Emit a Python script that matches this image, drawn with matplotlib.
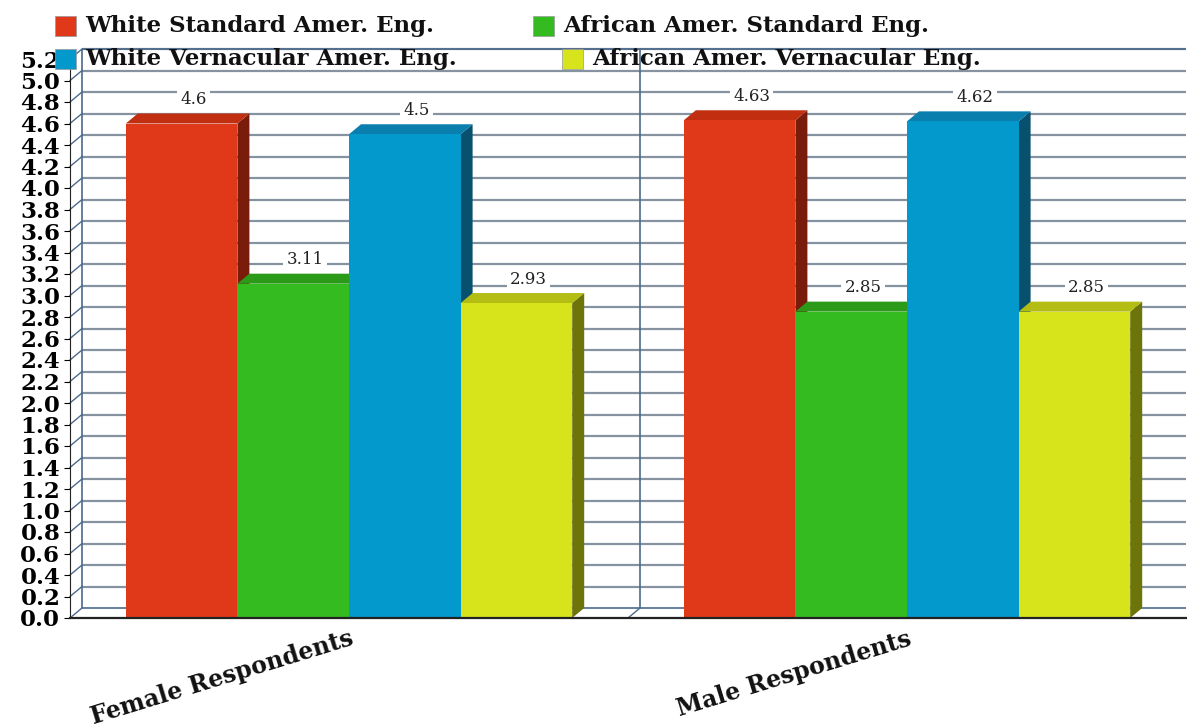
import numpy as np
import matplotlib.pyplot as plt
from matplotlib.patches import Rectangle, Polygon

# data
groups = ['Female Respondents', 'Male Respondents']
series = ['White Standard Amer. Eng.', 'African Amer. Standard Eng.',
          'White Vernacular Amer. Eng.', 'African Amer. Vernacular Eng.']
white_standard = [4.6, 4.63]
african_standard = [3.11, 2.85]
white_vernacular = [4.5, 4.62]
african_vernacular = [2.93, 2.85]
yticks = np.arange(0, 5.21, 0.2)

values = [white_standard, african_standard, white_vernacular, african_vernacular]
# front, top, side shades per series
shades = [('#e0391a', '#c22f10', '#7a1c0b'),
          ('#33bb1f', '#2a9a18', '#1d6a10'),
          ('#0399cc', '#0a7fae', '#07506e'),
          ('#d7e31b', '#b3bd13', '#6d7409')]

serif = 'DejaVu Serif'
grid_col = '#8592a0'
wall_col = '#4c6a8c'

fig = plt.figure(figsize=(11.87, 7.27), dpi=100)
ax = fig.add_axes([70 / 1187, 109 / 727, 1116 / 1187, 559 / 727])
ax.set_xlim(0, 2)
ax.set_ylim(0, 5.2)

# depth of the fake 3d effect, in data units
dx = 12 / 558
dy = 10 / 107.5

# back wall
ax.hlines(yticks[1:] + dy, dx, 2, color=grid_col, lw=1.6, zorder=1, clip_on=False)
ax.hlines(dy, dx, 2, color=wall_col, lw=1.2, zorder=1, clip_on=False)
ax.hlines(5.2 + dy, dx, 2, color=wall_col, lw=1.2, zorder=1, clip_on=False)
ax.vlines([dx, 1 + dx], dy, 5.2 + dy, color=wall_col, lw=1.2, zorder=1, clip_on=False)
for v in yticks:
    ax.plot([0, dx], [v, v + dy], color=wall_col, lw=1.0, zorder=1, clip_on=False)
ax.plot([1, 1 + dx], [0, dy], color=wall_col, lw=1.0, zorder=1, clip_on=False)

# bars
bw = 0.2
z = 3
for g in range(len(groups)):
    for i, vals in enumerate(values):
        h = vals[g]
        x0 = g + 0.1 + i * bw
        front, top, side = shades[i]
        ax.add_patch(Polygon([(x0 + bw, 0), (x0 + bw + dx, dy), (x0 + bw + dx, h + dy), (x0 + bw, h)],
                             closed=True, facecolor=side, edgecolor='none', zorder=z))
        ax.add_patch(Polygon([(x0, h), (x0 + bw, h), (x0 + bw + dx, h + dy), (x0 + dx, h + dy)],
                             closed=True, facecolor=top, edgecolor='none', zorder=z + 1))
        ax.add_patch(Rectangle((x0, 0), bw, h, facecolor=front, edgecolor='none', zorder=z + 2))
        ax.annotate(f'{h:g}', (x0 + bw / 2 + dx, h + dy), xytext=(0, 10), textcoords='offset points',
                    ha='center', va='center', fontsize=12, family=serif, color='#222222',
                    bbox=dict(boxstyle='square,pad=0.2', fc='white', ec='none'), zorder=z + 1)
        z += 3

# axes styling
for s in ['top', 'right']:
    ax.spines[s].set_visible(False)
ax.spines['left'].set_color('#222222')
ax.spines['bottom'].set_color('#222222')
ax.spines['bottom'].set_linewidth(1.6)
ax.spines['bottom'].set_zorder(30)
ax.set_yticks(yticks)
ax.set_yticklabels([f'{v:.1f}' for v in yticks], fontsize=16.5, fontweight='bold', family=serif)
ax.tick_params(axis='y', length=4, pad=3)
ax.set_xticks([0.5, 1.5])
ax.set_xticklabels([])
ax.tick_params(axis='x', length=0)
for g, name in enumerate(groups):
    ax.annotate(name, (g + 0.5, 0), xytext=(0, -6), textcoords='offset points',
                ha='right', va='top', rotation=17, rotation_mode='anchor',
                fontsize=17, fontweight='bold', family=serif, color='#111111')

# legend, two rows
legend_pos = [(55, 26), (533, 26), (55, 59), (562, 59)]
for (px, py), name, (front, _, _) in zip(legend_pos, series, shades):
    fig.patches.append(Rectangle((px / 1187, 1 - (py + 10) / 727), 21 / 1187, 20 / 727,
                                 facecolor=front, edgecolor='#999999', lw=0.5,
                                 transform=fig.transFigure, zorder=40))
    fig.text((px + 30) / 1187, 1 - py / 727, name, ha='left', va='center',
             fontsize=16.5, fontweight='bold', family=serif, color='#111111', zorder=40)

fig.savefig('out.png', dpi=100)
